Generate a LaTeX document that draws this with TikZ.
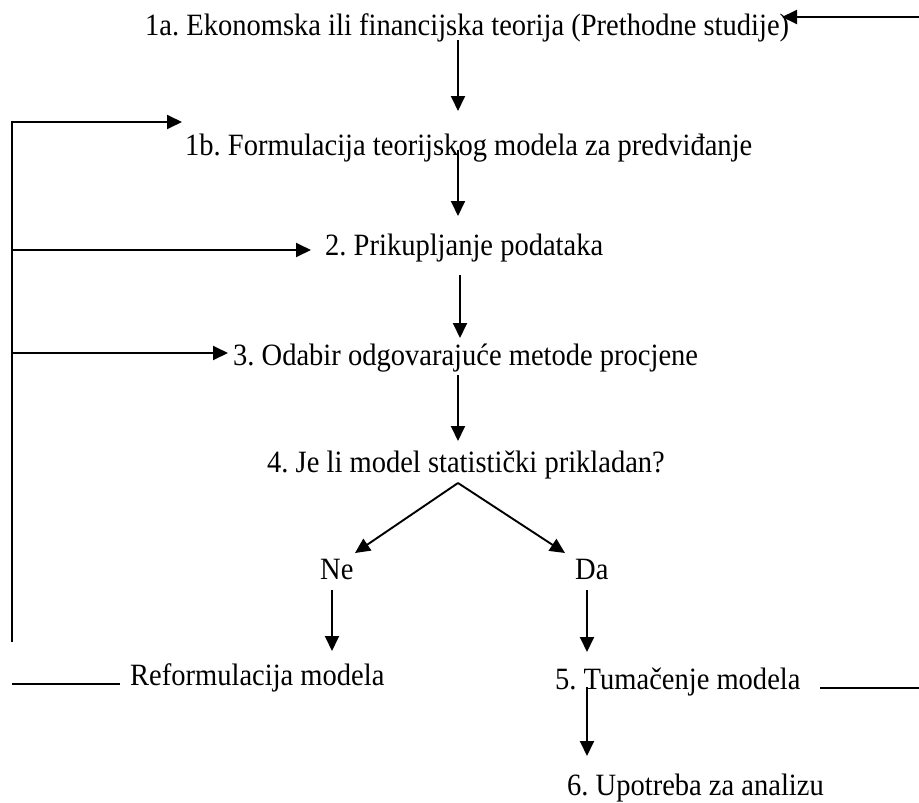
\documentclass[tikz,border=0pt]{standalone}
\usepackage{fontspec}
\setmainfont{Liberation Serif}[FakeStretch=0.92]
\usetikzlibrary{arrows.meta,calc}
\begin{document}
\frenchspacing
\begin{tikzpicture}[x=1pt,y=-1pt,
  lbl/.style={anchor=base west,inner sep=0pt,font=\fontsize{31}{34}\selectfont},
  ln/.style={line width=1.9pt,draw=black},
  arr/.style={ln,-{Triangle[length=15pt,width=14pt]}}]
\useasboundingbox (0,0) rectangle (919,803);
% text nodes
\node[lbl] (t1a) at (145,35) {1a. Ekonomska ili financijska teorija (Prethodne studije)};
\node[lbl] (t1b) at (185,155) {1b. Formulacija teorijskog modela za predviđanje};
\node[lbl] (t2) at (325,255) {2. Prikupljanje podataka};
\node[lbl] (t3) at (233,365) {3. Odabir odgovarajuće metode procjene};
\node[lbl] (t4) at (267,472) {4. Je li model statistički prikladan?};
\node[lbl] (ne) at (320,579) {Ne};
\node[lbl] (da) at (575,579) {Da};
\node[lbl] (ref) at (130,685) {Reformulacija modela};
\node[lbl] (t5) at (555,689) {5. Tumačenje modela};
\node[lbl] (t6) at (567,795) {6. Upotreba za analizu};
% helper coordinates
\coordinate (sp) at (458,0);
\coordinate (lx) at (12,0);
\coordinate (rx) at (919,0);
\coordinate (split) at (458,483);
\coordinate (neX) at (332,0);
\coordinate (daX) at (587,0);
% main spine
\draw[arr] (sp |- 0,40) -- (sp |- 0,111);
\draw[arr] (sp |- 0,150) -- (sp |- 0,216);
\draw[arr] (460,275) -- (460,338);
\draw[arr] (sp |- 0,375) -- (sp |- 0,441);
\draw[arr] (split) -- (355,553);
\draw[arr] (split) -- (565,553);
\draw[arr] (neX |- 0,590) -- (neX |- 0,651);
\draw[arr] (daX |- 0,590) -- (daX |- 0,652);
\draw[arr] (daX |- 0,687) -- (daX |- 0,756);
% feedback lines
\draw[arr] (rx |- 0,17) -- (782,17);
\draw[arr] (lx |- 0,642) -- (lx |- 0,122) -- (182,122);
\draw[arr] (lx |- 0,250) -- (311,250);
\draw[arr] (lx |- 0,353) -- (228,353);
\draw[ln] (lx |- 0,684) -- (120,684);
\draw[ln] (820,688) -- (rx |- 0,688);
\end{tikzpicture}
\end{document}
